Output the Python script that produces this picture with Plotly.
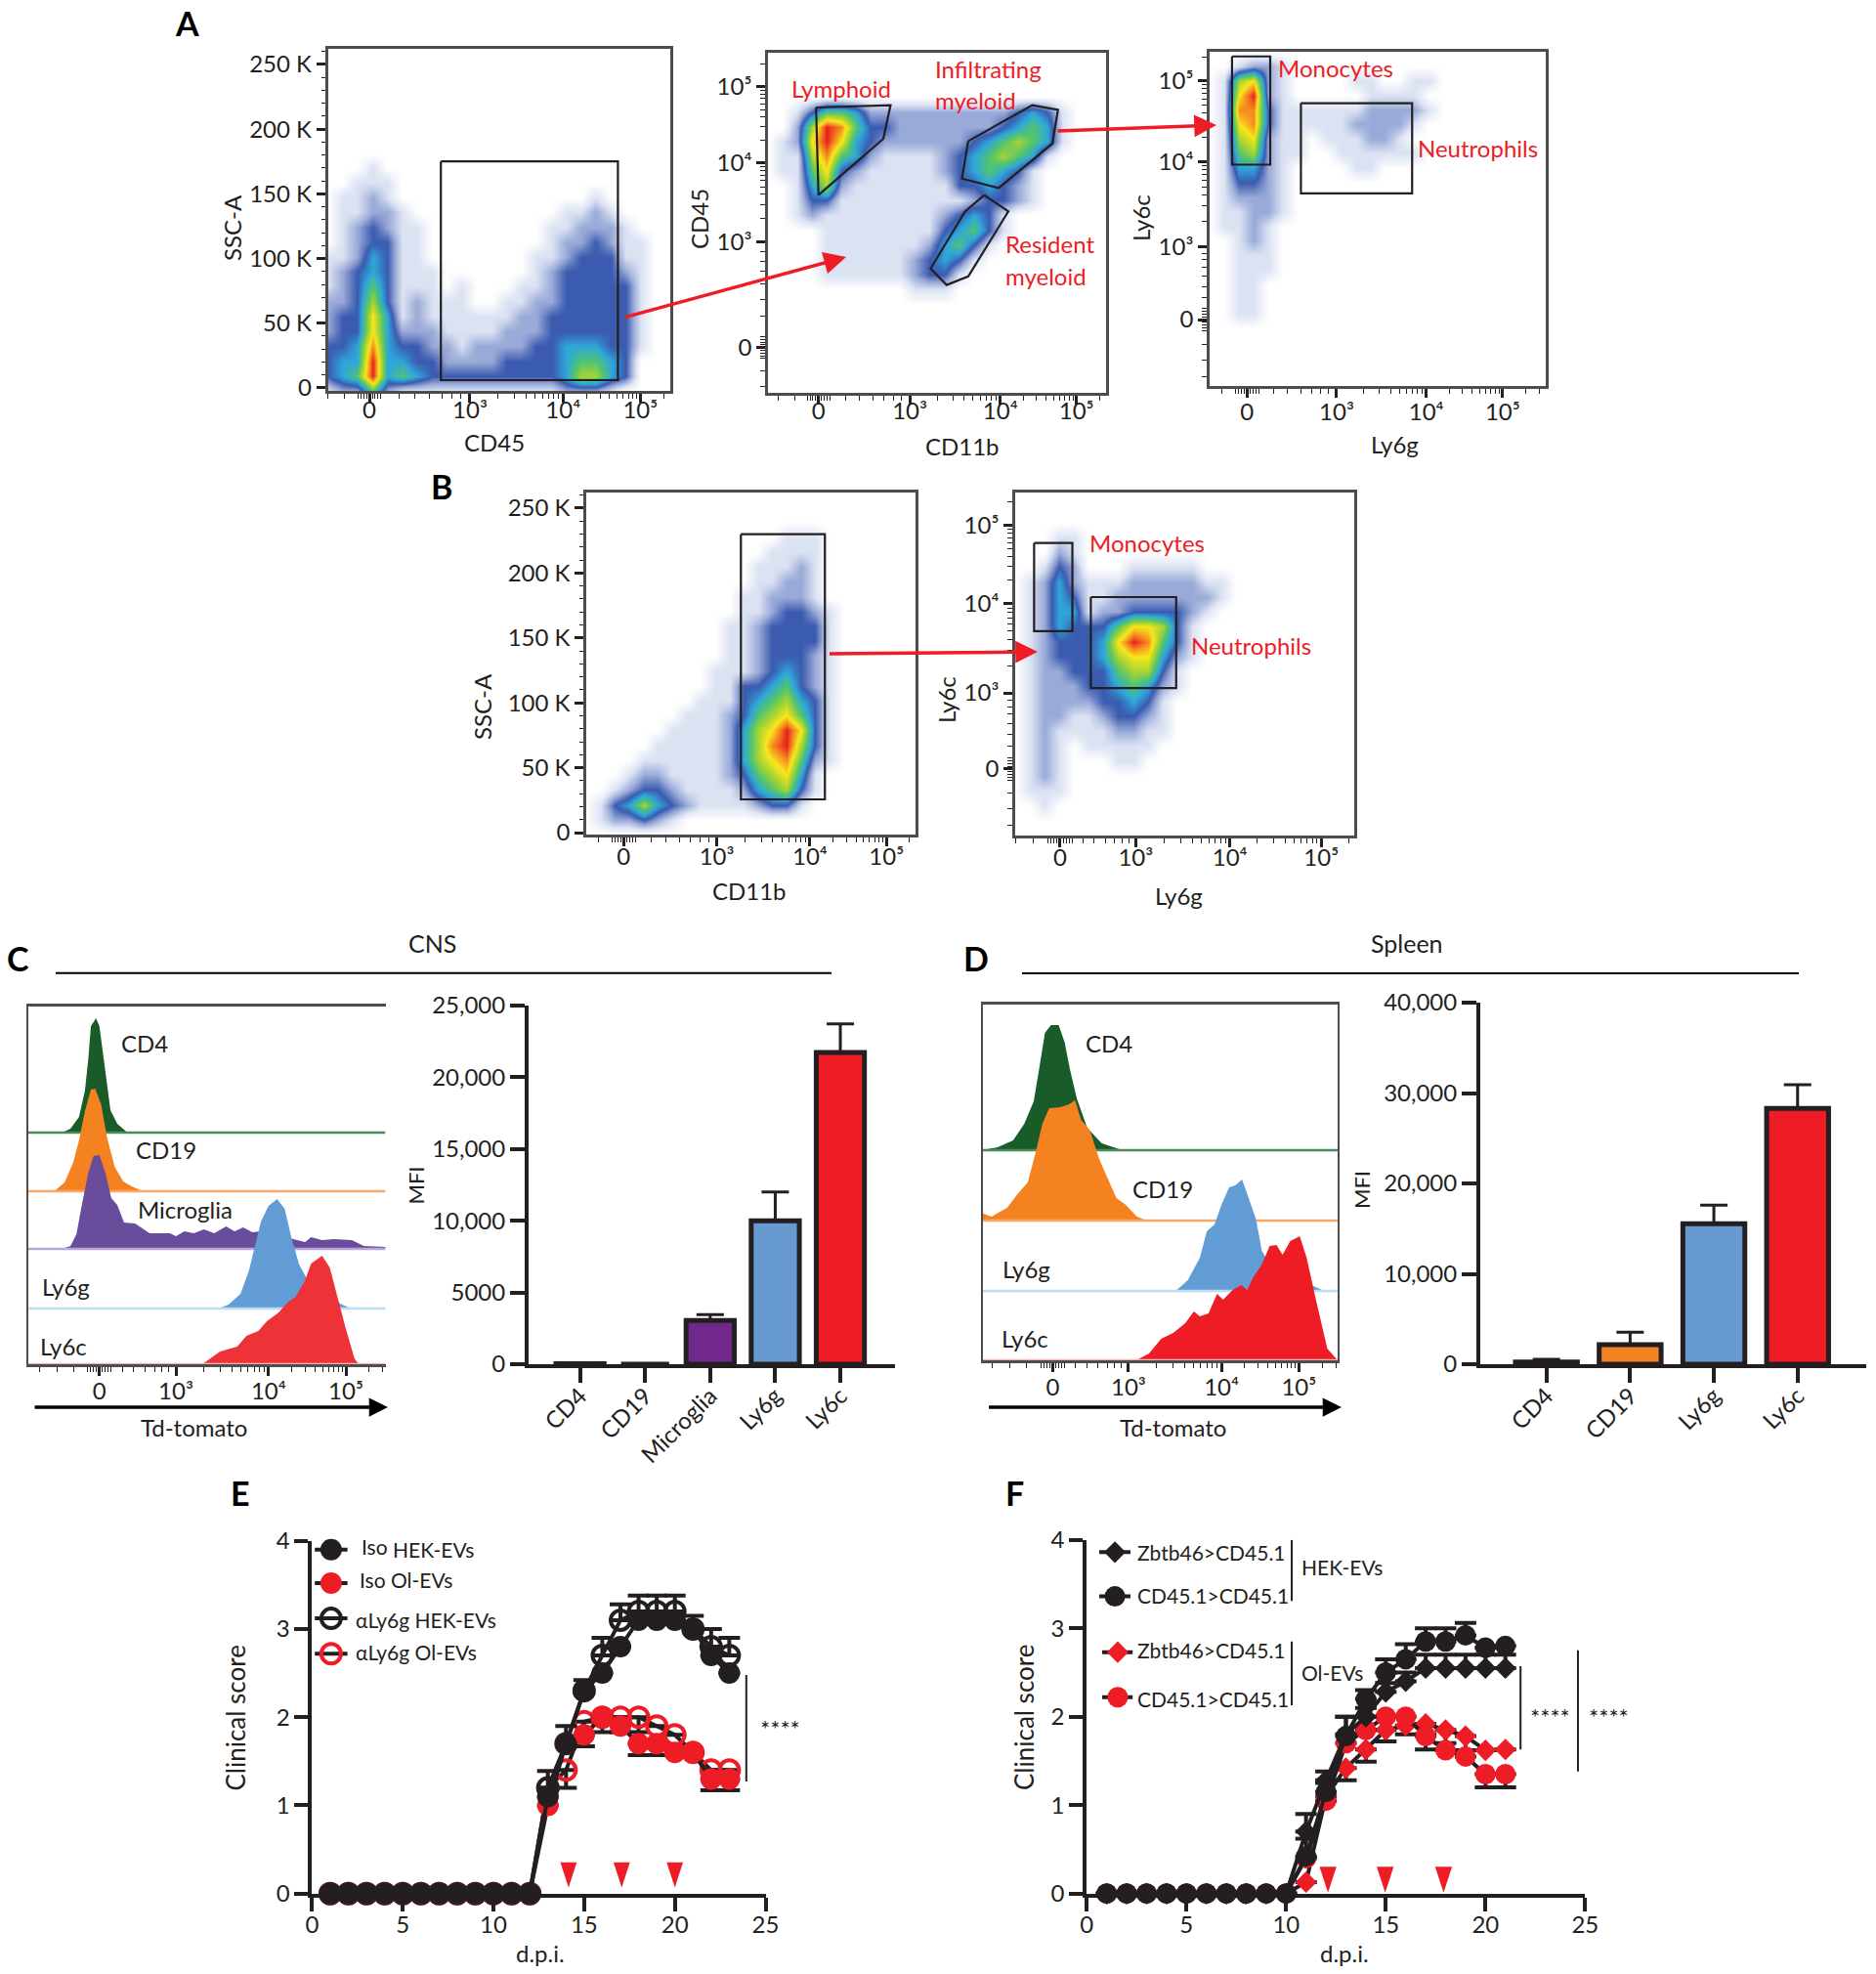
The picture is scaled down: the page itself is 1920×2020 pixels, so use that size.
import numpy as np
import plotly.graph_objects as go

W, H = 1920, 2020
INK = "#231f20"
RED_TXT = "#ee1c25"
FONT = "Lato"

# density levels, one char per grid cell, top row first
A1_DENSITY = [
    "", "", "", "", "", "", "", "",
    "000100000000000000000000",
    "001110000000000000000000",
    "011210000000000000100000",
    "011221000000000011210000",
    "012321100000000112221000",
    "012331100000000122321100",
    "112431100000001123331100",
    "123431110000001233332100",
    "123531110100011233333100",
    "223631211100112233333100",
    "233741211111122333333100",
    "233742221111222333333100",
    "334843322122223344433100",
    "344944332222333345543000",
    "345945433333333346643000",
    "122521111111111122210000",
]
A2_DENSITY = [
    "", "", "", "",
    "001355422222222223431000",
    "002698533222222234541000",
    "012797432222223456541000",
    "011685421111234565410000",
    "011573211111234543100000",
    "001462111111133432100000",
    "001331111111112332100000",
    "001211111111234310000000",
    "000011111111345310000000",
    "000011111112453100000000",
    "000011111123431000000000",
    "000011111123310000000000",
    "000000000011100000000000",
    "", "", "", "", "", "", "",
]
A3_DENSITY = [
    "",
    "001221000000000000000000",
    "016721000011001100000000",
    "017921000001111000000000",
    "018831111112222100000000",
    "017831111122221000000000",
    "016721101112210000000000",
    "015621100111111000000000",
    "014421000011000000000000",
    "013321000000000000000000",
    "012221000000000000000000",
    "011221000000000000000000",
    "011210000000000000000000",
    "001210000000000000000000",
    "001110000000000000000000",
    "001110000000000000000000",
    "001100000000000000000000",
    "001100000000000000000000",
    "001100000000000000000000",
    "", "", "", "", "",
]
B1_DENSITY = [
    "", "", "",
    "000000000000001110000000",
    "000000000000011110000000",
    "000000000000111210000000",
    "000000000000112210000000",
    "000000000001122210000000",
    "000000000001123321000000",
    "000000000011233331000000",
    "000000000011233331000000",
    "000000000011233321000000",
    "000000000111234321000000",
    "000000000113345321000000",
    "000000001113456431000000",
    "000000011123567531000000",
    "000000111124679731000000",
    "000001111124689631000000",
    "000011111124678521000000",
    "000122111123567410000000",
    "001233211112456310000000",
    "013464321111233100000000",
    "012232100000000000000000",
    "",
]
B2_DENSITY = [
    "", "", "",
    "000110000000000000000000",
    "000210000000000000000000",
    "001320001111100000000000",
    "012421112222211000000000",
    "012431122222221000000000",
    "012441223333210000000000",
    "012433357763100000000000",
    "012333479853100000000000",
    "012333467742100000000000",
    "012233356631000000000000",
    "012223345421000000000000",
    "012222334310000000000000",
    "012211233210000000000000",
    "012111122110000000000000",
    "012101111100000000000000",
    "012100011000000000000000",
    "012100000000000000000000",
    "011100000000000000000000",
    "001000000000000000000000",
    "", "",
]

# gates, in axis units
A1_GATE_X = [2.53, 4.66, 4.66, 2.53, 2.53]
A1_GATE_Y = [175, 175, 6, 6, 175]
LYMPH_X = [1.70, 2.63, 2.54, 1.73, 1.70]
LYMPH_Y = [4.71, 4.74, 4.31, 3.59, 4.71]
INFIL_X = [3.60, 4.40, 4.72, 4.65, 3.98, 3.52, 3.60]
INFIL_Y = [4.28, 4.74, 4.68, 4.25, 3.68, 3.80, 4.28]
RESID_X = [3.80, 4.10, 3.60, 3.33, 3.13, 3.56, 3.80]
RESID_Y = [3.59, 3.38, 2.55, 2.44, 2.65, 3.38, 3.59]
A3_MONO_X = [1.66, 2.12, 2.12, 1.66, 1.66]
A3_MONO_Y = [5.28, 5.28, 3.96, 3.96, 5.28]
A3_NEUT_X = [2.49, 3.83, 3.83, 2.49, 2.49]
A3_NEUT_Y = [4.71, 4.71, 3.61, 3.61, 4.71]
B1_GATE_X = [3.17, 4.18, 4.18, 3.17, 3.17]
B1_GATE_Y = [229.9, 229.9, 25.6, 25.6, 229.9]
B2_MONO_X = [1.775, 2.21, 2.21, 1.775, 1.775]
B2_MONO_Y = [4.76, 4.76, 3.66, 3.66, 4.76]
B2_NEUT_X = [2.42, 3.39, 3.39, 2.42, 2.42]
B2_NEUT_Y = [4.085, 4.085, 2.95, 2.95, 4.085]

# histograms panel C: decade position and height
C_CD4_X = [1.66, 1.76, 1.86, 1.93, 1.97, 2.0, 2.06, 2.10, 2.16, 2.23, 2.31, 2.43]
C_CD4_H = [0, 4, 16, 43, 76, 109, 117, 109, 69, 23, 9, 0]
C_CD19_X = [1.57, 1.69, 1.79, 1.86, 1.93, 2.0, 2.05, 2.12, 2.19, 2.28, 2.38, 2.48, 2.61]
C_CD19_H = [0, 9, 29, 52, 82, 104, 105, 89, 55, 25, 10, 5, 0]
C_MICRO_X = [1.66, 1.76, 1.83, 1.90, 1.97, 2.03, 2.10, 2.17, 2.24, 2.31, 2.39, 2.52, 2.69, 2.93, 3.0, 3.10, 3.21,
             3.33, 3.45, 3.59, 3.69, 3.79, 3.90, 4.0, 4.17, 4.38, 4.52, 4.59, 4.72, 4.86, 5.07, 5.21, 5.47]
C_MICRO_H = [0, 3, 15, 48, 78, 95, 96, 78, 52, 45, 27, 26, 16, 16, 13, 18, 16,
             20, 16, 23, 18, 22, 17, 18, 17, 10, 7, 12, 9, 10, 9, 3, 2]
C_LY6G_X = [3.50, 3.62, 3.76, 3.86, 3.93, 4.0, 4.09, 4.19, 4.28, 4.36, 4.45, 4.55, 4.69, 4.83, 4.93, 5.06]
C_LY6G_H = [0, 4, 15, 39, 65, 89, 105, 112, 102, 72, 45, 29, 19, 14, 5, 0]
C_LY6C_X = [3.31, 3.52, 3.72, 3.83, 3.97, 4.07, 4.21, 4.31, 4.41, 4.52, 4.59, 4.72, 4.81, 4.90, 5.0, 5.10, 5.15]
C_LY6C_H = [0, 13, 18, 29, 34, 44, 53, 63, 69, 86, 103, 111, 99, 69, 36, 6, 0]

# histograms panel D
D_CD4_X = [1.29, 1.48, 1.66, 1.79, 1.90, 1.97, 2.03, 2.10, 2.19, 2.26, 2.32, 2.40, 2.52, 2.69, 2.93]
D_CD4_H = [0, 3, 10, 27, 50, 87, 120, 128, 128, 110, 83, 53, 23, 7, 0]
D_CD19_X = [1.29, 1.41, 1.59, 1.72, 1.83, 1.92, 2.0, 2.08, 2.21, 2.31, 2.38, 2.45, 2.55, 2.66, 2.76, 2.86, 2.97, 3.10, 3.21]
D_CD19_H = [8, 4, 13, 28, 39, 69, 99, 115, 116, 119, 123, 103, 93, 63, 43, 23, 16, 4, 0]
D_LY6G_X = [3.55, 3.69, 3.83, 3.91, 4.0, 4.08, 4.17, 4.24, 4.32, 4.40, 4.48, 4.55, 4.66, 5.03, 5.17, 5.28]
D_LY6G_H = [0, 11, 34, 61, 68, 88, 106, 108, 114, 94, 74, 41, 24, 11, 4, 0]
D_LY6C_X = [3.09, 3.24, 3.38, 3.52, 3.66, 3.76, 3.83, 3.93, 4.03, 4.10, 4.21, 4.31, 4.38, 4.45, 4.55, 4.64, 4.72, 4.79,
            4.88, 4.99, 5.07, 5.17, 5.31, 5.43]
D_LY6C_H = [0, 7, 22, 28, 38, 50, 45, 48, 68, 62, 72, 77, 72, 85, 98, 117, 118, 108, 122, 127, 105, 65, 12, 0]

# bars
C_BAR_CATS = ["CD4", "CD19", "Microglia", "Ly6g", "Ly6c"]
C_BAR_VALS = [30, 0, 3045, 9990, 21730]
C_BAR_ERR = [0, 0, 405, 2020, 1990]
D_BAR_CATS = ["CD4", "CD19", "Ly6g", "Ly6c"]
D_BAR_VALS = [250, 2160, 15530, 28290]
D_BAR_ERR = [300, 1370, 2060, 2630]

# clinical score, panel E
E_DAYS = list(range(1, 24))
E_ZEROS = [0] * 12
E_ISO_HEK = E_ZEROS + [1.1, 1.7, 2.3, 2.5, 2.8, 3.1, 3.1, 3.1, 3.0, 2.7, 2.5]
E_ISO_OL = E_ZEROS + [1.0, 1.7, 1.8, 2.0, 1.9, 1.7, 1.7, 1.6, 1.6, 1.3, 1.3]
E_ALY_HEK = E_ZEROS + [1.2, 1.7, 2.3, 2.7, 3.1, 3.2, 3.2, 3.2, 3.0, 2.8, 2.7]
E_ALY_OL = E_ZEROS + [1.2, 1.4, 1.95, 2.0, 2.0, 2.0, 1.9, 1.8, 1.6, 1.4, 1.4]
E_ALY_HEK_UP = E_ZEROS + [.19, .2, .12, .2, .18, .18, .18, .18, .15, .2, .2]
E_ALY_OL_DN = E_ZEROS + [0, .2, .28, .17, .17, .17, 0, 0, 0, 0, 0]
E_ISO_OL_DN = E_ZEROS + [0, 0, 0, 0, 0, .13, .13, 0, 0, .13, .13]
E_DOSES = [14.14, 17.07, 20.0]

# clinical score, panel F
F_DAYS = list(range(1, 22))
F_ZEROS = [0] * 10
F_Z_HEK = F_ZEROS + [.7, 1.28, 1.8, 2.0, 2.28, 2.4, 2.55, 2.55, 2.55, 2.55, 2.55]
F_C_HEK = F_ZEROS + [.42, 1.15, 1.78, 2.2, 2.5, 2.65, 2.85, 2.85, 2.92, 2.78, 2.8]
F_Z_OL = F_ZEROS + [.13, 1.1, 1.42, 1.63, 1.85, 1.9, 1.92, 1.85, 1.78, 1.62, 1.63]
F_C_OL = F_ZEROS + [.4, 1.05, 1.7, 1.85, 2.0, 2.0, 1.78, 1.62, 1.55, 1.35, 1.35]
F_Z_HEK_UP = F_ZEROS + [.2, .1, .2, .1, .1, .1, .15, .15, .15, .15, .15]
F_C_HEK_UP = F_ZEROS + [.2, .1, .22, .1, .15, .17, .15, .15, .14, 0, 0]
F_Z_OL_DN = F_ZEROS + [0, 0, .14, .14, .13, .1, .12, .15, .16, 0, 0]
F_C_OL_DN = F_ZEROS + [0, 0, 0, 0, 0, 0, .15, 0, 0, .15, .15]
F_DOSES = [12.1, 14.97, 17.9]

DENSITY_COLORS = ["#ffffff", "#dbe2f2", "#9aaad8", "#3b5bb0", "#2fa7da",
                  "#52c46e", "#a8d432", "#f8e71c", "#f58a1f", "#e8201f"]
COLORSCALE = [[i / 9, c] for i, c in enumerate(DENSITY_COLORS)]

fig = go.Figure()
notes = []
n_axes = 0


def txt(x, y, text, size=24, color=INK, rot=0, bold=False, anchor="center"):
    notes.append(dict(x=x / W, y=1 - y / H, xref="paper", yref="paper", text=f"<b>{text}</b>" if bold else text,
                      showarrow=False, xanchor=anchor, yanchor="middle", textangle=rot,
                      font=dict(family=FONT, size=size, color=color)))


def arrow(x0, y0, x1, y1, color=RED_TXT, width=3.5, head=1.3):
    notes.append(dict(x=x1 / W, y=1 - y1 / H, ax=x0 - x1, ay=y0 - y1, xref="paper", yref="paper",
                      axref="pixel", ayref="pixel", text="", showarrow=True, arrowhead=2, arrowsize=head,
                      arrowwidth=width, arrowcolor=color))


def add_axes(box, xaxis, yaxis):
    global n_axes
    n_axes += 1
    l, r, t, b = box
    xaxis = dict(domain=[l / W, r / W], anchor=f"y{n_axes}", zeroline=False, showgrid=False, automargin=False, **xaxis)
    yaxis = dict(domain=[1 - b / H, 1 - t / H], anchor=f"x{n_axes}", zeroline=False, showgrid=False, automargin=False, **yaxis)
    fig.update_layout({f"xaxis{n_axes}": xaxis, f"yaxis{n_axes}": yaxis})
    return f"x{n_axes}", f"y{n_axes}"


def flow_minor(majors):
    zero, d3, d4, d5 = majors
    k = np.log10(np.arange(2, 10))
    out = [d3 + k * (d4 - d3), d4 + k * (d5 - d4), d5 + k * (d5 - d4)]
    out.append(np.linspace(zero - .14, zero + .14, 9))
    out.append(zero + (d3 - zero) * np.array([.3, .45, .6, .72, .82, .91]))
    out.append(zero - np.array([.3, .5, .7]))
    return np.concatenate(out).round(3).tolist()


def log_axis(rng, majors, standoff=0):
    return dict(range=rng, tickmode="array", tickvals=majors, ticktext=["0", "10³", "10⁴", "10⁵"],
                ticks="outside", ticklen=9, tickwidth=2.5, tickcolor=INK, showline=True, mirror=True,
                linecolor="#4d4d4d", linewidth=2.5, tickfont=dict(family=FONT, size=24, color=INK),
                ticklabelstandoff=standoff,
                minor=dict(tickmode="array", tickvals=flow_minor(majors), ticks="outside", ticklen=5,
                           tickwidth=1.2, tickcolor=INK))


def ssc_axis(rng):
    labels = ["0", "50 K", "100 K", "150 K", "200 K", "250 K"]
    return dict(range=rng, tickmode="array", tickvals=[0, 50, 100, 150, 200, 250], ticktext=labels,
                ticks="outside", ticklen=9, tickwidth=2.5, tickcolor=INK, showline=True, mirror=True,
                linecolor="#4d4d4d", linewidth=2.5, tickfont=dict(family=FONT, size=24, color=INK),
                minor=dict(dtick=10, ticks="outside", ticklen=4, tickwidth=1.2, tickcolor=INK))


def flow_panel(box, xaxis, yaxis, density, gates):
    xa, ya = add_axes(box, xaxis, yaxis)
    z = [[int(c) for c in row.ljust(24, "0")] for row in density][::-1]
    fig.add_trace(go.Heatmap(z=z, x=np.linspace(*xaxis["range"], 24), y=np.linspace(*yaxis["range"], 24),
                             colorscale=COLORSCALE, zmin=0, zmax=9, showscale=False, zsmooth="best",
                             hoverinfo="skip", xaxis=xa, yaxis=ya))
    for gx, gy in gates:
        fig.add_trace(go.Scatter(x=gx, y=gy, mode="lines", line=dict(color=INK, width=2.2), xaxis=xa, yaxis=ya))


# panel A
flow_panel((335.5, 686, 50, 400), log_axis([1.17, 5.29], [1.67, 2.88, 4, 4.93], -13), ssc_axis([-2.3, 262]),
           A1_DENSITY, [(A1_GATE_X, A1_GATE_Y)])
flow_panel((786, 1132, 54, 402), log_axis([1.10, 5.32], [1.73, 2.87, 4, 4.95], -14),
           log_axis([1.06, 5.41], [1.64, 2.99, 4, 4.975]), A2_DENSITY,
           [(LYMPH_X, LYMPH_Y), (INFIL_X, INFIL_Y), (RESID_X, RESID_Y)])
flow_panel((1238, 1582, 52.7, 395), log_axis([1.39, 5.44], [1.84, 2.92, 4, 4.92], -6),
           log_axis([1.26, 5.34], [2.07, 2.96, 4, 4.98]), A3_DENSITY,
           [(A3_MONO_X, A3_MONO_Y), (A3_NEUT_X, A3_NEUT_Y)])
# panel B
flow_panel((600, 937, 504, 854), log_axis([1.31, 5.27], [1.76, 2.88, 4, 4.92], -10), ssc_axis([-1.5, 262]),
           B1_DENSITY, [(B1_GATE_X, B1_GATE_Y)])
flow_panel((1039, 1385.6, 504, 855), log_axis([1.56, 5.41], [2.07, 2.93, 4, 5.04], -10),
           log_axis([1.11, 5.39], [1.94, 2.89, 4, 4.98]), B2_DENSITY,
           [(B2_MONO_X, B2_MONO_Y), (B2_NEUT_X, B2_NEUT_Y)])

for x, y, t in [(506, 453, "CD45"), (985, 457, "CD11b"), (1427, 455, "Ly6g"),
                (767, 912, "CD11b"), (1206, 917, "Ly6g")]:
    txt(x, y, t)
for x, y, t in [(238, 233, "SSC-A"), (716, 224, "CD45"), (1168, 223, "Ly6c"),
                (493, 723, "SSC-A"), (968, 716, "Ly6c")]:
    txt(x, y, t, rot=-90)
for x, y, t in [(861, 90, "Lymphoid"), (1011.6, 70, "Infiltrating"), (998.7, 102, "myeloid"),
                (1074, 249, "Resident"), (1070, 282, "myeloid"), (1367, 69, "Monocytes"),
                (1512.7, 151.7, "Neutrophils"), (1174, 555, "Monocytes"), (1280.6, 660, "Neutrophils")]:
    txt(x, y, t, color=RED_TXT)
arrow(638, 325, 866, 263)
arrow(1081, 134, 1245, 128)
arrow(847.5, 669, 1062, 667)


def hist_panel(box, rng, majors, height, rows, mirror_y):
    xa, ya = add_axes(box, log_axis(rng, majors, -5), dict(range=[0, height], showticklabels=False, ticks="",
                                                           showline=True, mirror=mirror_y, linecolor="#4d4d4d",
                                                           linewidth=2))
    for hx, hh, base, fill, pale in rows:
        fig.add_trace(go.Scatter(x=[rng[0]] + hx + [rng[1]], y=[base] + [base + v for v in hh] + [base],
                                 mode="lines", fill="toself", fillcolor=fill, line=dict(width=0),
                                 xaxis=xa, yaxis=ya))
        fig.add_trace(go.Scatter(x=rng, y=[base, base], mode="lines", line=dict(color=pale, width=2.5),
                                 xaxis=xa, yaxis=ya))


GREEN, ORANGE, PURPLE, BLUE = "#1a5b2a", "#f58220", "#6a4c9c", "#619cd4"
hist_panel((29, 394.5, 1030, 1396), [1.264, 5.465], [2.10, 3, 4.09, 5.0], 366, [
    (C_CD4_X, C_CD4_H, 237, GREEN, "#4d8a5c"),
    (C_CD19_X, C_CD19_H, 177, ORANGE, "#f9a666"),
    (C_MICRO_X, C_MICRO_H, 118, PURPLE, "#b8a6d8"),
    (C_LY6G_X, C_LY6G_H, 57, BLUE, "#bcdcf4"),
    (C_LY6C_X, C_LY6C_H, 0, "#ee3338", "#f8b0b0"),
], False)
hist_panel((1006, 1369, 1028, 1392), [1.31, 5.43], [2.12, 3, 4.08, 4.98], 364, [
    (D_CD4_X, D_CD4_H, 215, GREEN, "#4d8a5c"),
    (D_CD19_X, D_CD19_H, 143, ORANGE, "#f9a666"),
    (D_LY6G_X, D_LY6G_H, 71, BLUE, "#bcdcf4"),
    (D_LY6C_X, D_LY6C_H, 0, "#ee1c25", "#f8b0b0"),
], True)
for x, y, t in [(148, 1067, "CD4"), (170, 1176, "CD19"), (189.5, 1237, "Microglia"), (67, 1316, "Ly6g"),
                (65, 1377, "Ly6c"), (1135, 1067, "CD4"), (1190, 1216, "CD19"), (1050, 1298, "Ly6g"),
                (1049, 1369, "Ly6c"), (198, 1460, "Td-tomato"), (1200, 1460, "Td-tomato")]:
    txt(x, y, t)
arrow(34, 1440, 397, 1440, color="#000000", width=3.5, head=1.1)
arrow(1010.6, 1440, 1373, 1440, color="#000000", width=3.5, head=1.1)


def bar_panel(box, xr, yr, ytickvals, yticktext, cats, vals, errs, colors):
    xa, ya = add_axes(box, dict(range=xr, tickmode="array", tickvals=list(range(len(cats))), ticktext=cats,
                                tickangle=-45, ticks="outside", ticklen=15, tickwidth=3.5, tickcolor=INK,
                                showline=True, linecolor=INK, linewidth=4, ticklabelstandoff=-10,
                                tickfont=dict(family=FONT, size=24, color=INK)),
                      dict(range=yr, tickmode="array", tickvals=ytickvals, ticktext=yticktext, ticks="outside",
                           ticklen=15, tickwidth=4, tickcolor=INK, showline=True, linecolor=INK, linewidth=4,
                           tickfont=dict(family=FONT, size=24, color=INK)))
    fig.add_trace(go.Bar(x=list(range(len(cats))), y=vals, width=0.74, xaxis=xa, yaxis=ya,
                         marker=dict(color=colors, line=dict(color=INK, width=5)),
                         error_y=dict(type="data", symmetric=False, array=errs, arrayminus=[0] * len(errs),
                                      color=INK, thickness=3, width=14)))


bar_panel((541, 916, 1029, 1396), [-0.79, 4.84], [0, 25000], [0, 5000, 10000, 15000, 20000, 25000],
          ["0", "5000", "10,000", "15,000", "20,000", "25,000"], C_BAR_CATS, C_BAR_VALS, C_BAR_ERR,
          ["#231f20", "#f58220", "#70288c", "#6699d0", "#ee1c25"])
bar_panel((1515, 1910, 1026, 1396), [-0.79, 3.82], [0, 40000], [0, 10000, 20000, 30000, 40000],
          ["0", "10,000", "20,000", "30,000", "40,000"], D_BAR_CATS, D_BAR_VALS, D_BAR_ERR,
          ["#231f20", "#f58220", "#6699d0", "#ee1c25"])
txt(424.5, 1213, "MFI", size=22, rot=-90)
txt(1393, 1218, "MFI", size=22, rot=-90)
txt(442, 965, "CNS", size=25)
txt(1440, 965, "Spleen", size=25)


def score_axes(box, rng_y=(0, 4)):
    return add_axes(box,
                    dict(range=[0, 25], tickmode="array", tickvals=[0, 5, 10, 15, 20, 25], ticks="outside",
                         ticklen=14, tickwidth=3.5, tickcolor=INK, showline=True, linecolor=INK, linewidth=4,
                         ticklabelstandoff=-7, tickfont=dict(family=FONT, size=24, color=INK)),
                    dict(range=list(rng_y), tickmode="array", tickvals=[0, 1, 2, 3, 4], ticks="outside",
                         ticklen=14, tickwidth=3.5, tickcolor=INK, showline=True, linecolor=INK, linewidth=4,
                         tickfont=dict(family=FONT, size=24, color=INK)))


def series(xa, ya, x, y, symbol, color, size, up=None, down=None):
    n = len(y)
    fig.add_trace(go.Scatter(x=x, y=y, mode="lines+markers", xaxis=xa, yaxis=ya, cliponaxis=False,
                             line=dict(color=INK, width=4),
                             marker=dict(symbol=symbol, size=size, color=color,
                                         line=dict(color=color, width=4 if "open" in symbol else 0)),
                             error_y=dict(type="data", symmetric=False, array=up or [0] * n,
                                          arrayminus=down or [0] * n, color=INK, thickness=4, width=11)))


def key(xa, ya, x0, x1, xm, y, symbol, color, size):
    fig.add_trace(go.Scatter(x=[x0, x1], y=[y, y], mode="lines", line=dict(color=INK, width=4), xaxis=xa, yaxis=ya,
                             cliponaxis=False))
    fig.add_trace(go.Scatter(x=[xm], y=[y], mode="markers", xaxis=xa, yaxis=ya, cliponaxis=False,
                             marker=dict(symbol=symbol, size=size, color=color,
                                         line=dict(color=color, width=4 if "open" in symbol else 0))))


def doses(xa, ya, days, tip, size):
    fig.add_trace(go.Scatter(x=days, y=[tip] * len(days), mode="markers", xaxis=xa, yaxis=ya, cliponaxis=False,
                             marker=dict(symbol="arrow", angle=180, size=size, color=RED_TXT, line=dict(width=0))))


def bracket(xa, ya, x, y0, y1):
    fig.add_trace(go.Scatter(x=[x, x], y=[y0, y1], mode="lines", xaxis=xa, yaxis=ya, cliponaxis=False,
                             line=dict(color=INK, width=2)))


BLACK, RED = "#231f20", "#ee1c25"
xe, ye = score_axes((319.4, 783.5, 1576.7, 1937.7))
series(xe, ye, E_DAYS, E_ALY_OL, "circle-open", RED, 20, down=E_ALY_OL_DN)
series(xe, ye, E_DAYS, E_ALY_HEK, "circle-open", BLACK, 20, up=E_ALY_HEK_UP)
series(xe, ye, E_DAYS, E_ISO_OL, "circle", RED, 22, down=E_ISO_OL_DN)
series(xe, ye, E_DAYS, E_ISO_HEK, "circle", BLACK, 22)
doses(xe, ye, E_DOSES, 0.07, 27)
key(xe, ye, 0.15, 1.95, 1.05, 3.9, "circle", BLACK, 22)
key(xe, ye, 0.15, 1.95, 1.05, 3.52, "circle", RED, 22)
key(xe, ye, 0.15, 1.95, 1.05, 3.12, "circle-open", BLACK, 20)
key(xe, ye, 0.15, 1.95, 1.05, 2.72, "circle-open", RED, 20)
bracket(xe, ye, 23.94, 1.27, 2.48)
txt(368, 1582, "Iso", size=21, anchor="left")
txt(400, 1585, "HEK-EVs", size=21, anchor="left")
txt(366, 1616, "Iso Ol-EVs", size=21, anchor="left")
txt(362, 1657, "αLy6g HEK-EVs", size=21, anchor="left")
txt(362, 1690, "αLy6g Ol-EVs", size=21, anchor="left")
txt(798.6, 1768, "****", size=24)
txt(240.6, 1758, "Clinical score", size=26, rot=-90)
txt(553, 1998, "d.p.i.", size=24)

xf, yf = score_axes((1112.3, 1622.3, 1575.7, 1937.7))
series(xf, yf, F_DAYS, F_Z_OL, "diamond", RED, 17, down=F_Z_OL_DN)
series(xf, yf, F_DAYS, F_C_OL, "circle", RED, 21, down=F_C_OL_DN)
series(xf, yf, F_DAYS, F_Z_HEK, "diamond", BLACK, 17, up=F_Z_HEK_UP)
series(xf, yf, F_DAYS, F_C_HEK, "circle", BLACK, 21, up=F_C_HEK_UP)
doses(xf, yf, F_DOSES, 0.01, 28)
key(xf, yf, 0.62, 2.19, 1.41, 3.86, "diamond", BLACK, 17)
key(xf, yf, 0.62, 2.19, 1.41, 3.36, "circle", BLACK, 21)
key(xf, yf, 0.77, 2.3, 1.55, 2.73, "diamond", RED, 17)
key(xf, yf, 0.77, 2.3, 1.55, 2.22, "circle", RED, 21)
bracket(xf, yf, 10.28, 3.31, 4.0)
bracket(xf, yf, 10.28, 2.13, 2.85)
bracket(xf, yf, 21.76, 1.63, 2.57)
bracket(xf, yf, 24.64, 1.38, 2.75)
for y, t in [(1588, "Zbtb46>CD45.1"), (1632, "CD45.1>CD45.1"), (1688, "Zbtb46>CD45.1"), (1738, "CD45.1>CD45.1")]:
    txt(1162, y, t, size=21, anchor="left")
txt(1329.6, 1603, "HEK-EVs", size=21, anchor="left")
txt(1329.6, 1711, "Ol-EVs", size=21, anchor="left")
txt(1586.8, 1756, "****", size=24)
txt(1646, 1756, "****", size=24)
txt(1048, 1758, "Clinical score", size=26, rot=-90)
txt(1376, 1998, "d.p.i.", size=24)

# panel letters
for x, y, t in [(191, 23, "A"), (452, 497, "B"), (18, 980, "C"), (998.5, 980, "D"), (245.5, 1527, "E"), (1038, 1527, "F")]:
    txt(x, y, t, size=34, color="#000000", bold=True)

fig.update_layout(
    width=W, height=H, margin=dict(l=0, r=0, t=0, b=0), showlegend=False,
    paper_bgcolor="white", plot_bgcolor="white", annotations=notes, font=dict(family=FONT, color=INK),
    shapes=[
        dict(type="line", xref="paper", yref="paper", x0=57 / W, x1=851 / W, y0=1 - 995.7 / H, y1=1 - 995.7 / H,
             line=dict(color="#000000", width=2)),
        dict(type="line", xref="paper", yref="paper", x0=1046 / W, x1=1841 / W, y0=1 - 996 / H, y1=1 - 996 / H,
             line=dict(color="#000000", width=2)),
    ],
)
fig.write_html("out.html", config={"displayModeBar": False}, post_script="document.body.style.margin='0'")
